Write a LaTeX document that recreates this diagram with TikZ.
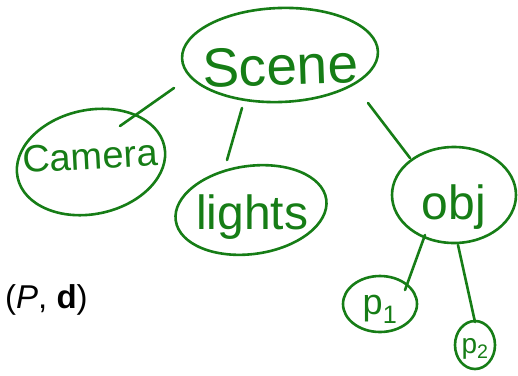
\documentclass[tikz,border=0pt]{standalone}
\usepackage{fontspec}
\setmainfont{Liberation Sans}
\usetikzlibrary{shapes.geometric}
\definecolor{ink}{RGB}{22,125,22}
\newcommand{\fixtxt}[1]{\makebox[0pt]{\smash{#1}}}
\begin{document}
\begin{tikzpicture}[x=1pt,y=1pt,
  blob/.style={ellipse, draw=ink, line width=2.6pt, inner sep=0pt, text=ink},
  link/.style={draw=ink, line width=2.6pt, line cap=round}]
\useasboundingbox (0,0) rectangle (518,-375);
\node[blob, minimum width=196pt, minimum height=94pt, rotate=2,
      font=\fontsize{55}{55}\selectfont] (scene) at (280,-55) {\fixtxt{\raisebox{-0.55em}{Scene}}};
\node[blob, minimum width=150pt, minimum height=104pt, rotate=12,
      font=\fontsize{38}{38}\selectfont] (camera) at (91,-162) {\fixtxt{\rotatebox{-9}{\raisebox{0.1em}{Camera}}}};
\node[blob, minimum width=152pt, minimum height=88pt, rotate=8,
      font=\fontsize{48}{48}\selectfont] (lights) at (251,-210) {\fixtxt{\rotatebox{-8}{\raisebox{-0.25em}{lights}}}};
\node[blob, minimum width=124pt, minimum height=96pt,
      font=\fontsize{48}{48}\selectfont] (obj) at (454,-195) {\fixtxt{\raisebox{-0.5em}{obj}}};
\node[blob, minimum width=74pt, minimum height=56pt,
      font=\fontsize{36}{36}\selectfont] (p1) at (380,-304) {\fixtxt{\raisebox{-0.3em}{p\textsubscript{1}}}};
\node[blob, minimum width=40pt, minimum height=48pt,
      font=\fontsize{28}{28}\selectfont] (p2) at (475,-345) {\fixtxt{\raisebox{-0.3em}{p\textsubscript{2}}}};
\node[font=\fontsize{33}{33}\selectfont, anchor=west, inner sep=0pt] (pd) at (5,-300) {(\textit{P}, \textbf{d})};
\coordinate (a1) at (174,-88);  \coordinate (b1) at (120,-126);
\coordinate (a2) at (242,-108); \coordinate (b2) at (227,-160);
\coordinate (a3) at (368,-103); \coordinate (b3) at (410,-158);
\coordinate (a4) at (425,-235); \coordinate (b4) at (405,-290);
\coordinate (a5) at (458,-245); \coordinate (b5) at (475,-322);
\draw[link] (a1) -- (b1);
\draw[link] (a2) -- (b2);
\draw[link] (a3) -- (b3);
\draw[link] (a4) -- (b4);
\draw[link] (a5) -- (b5);
\end{tikzpicture}
\end{document}
